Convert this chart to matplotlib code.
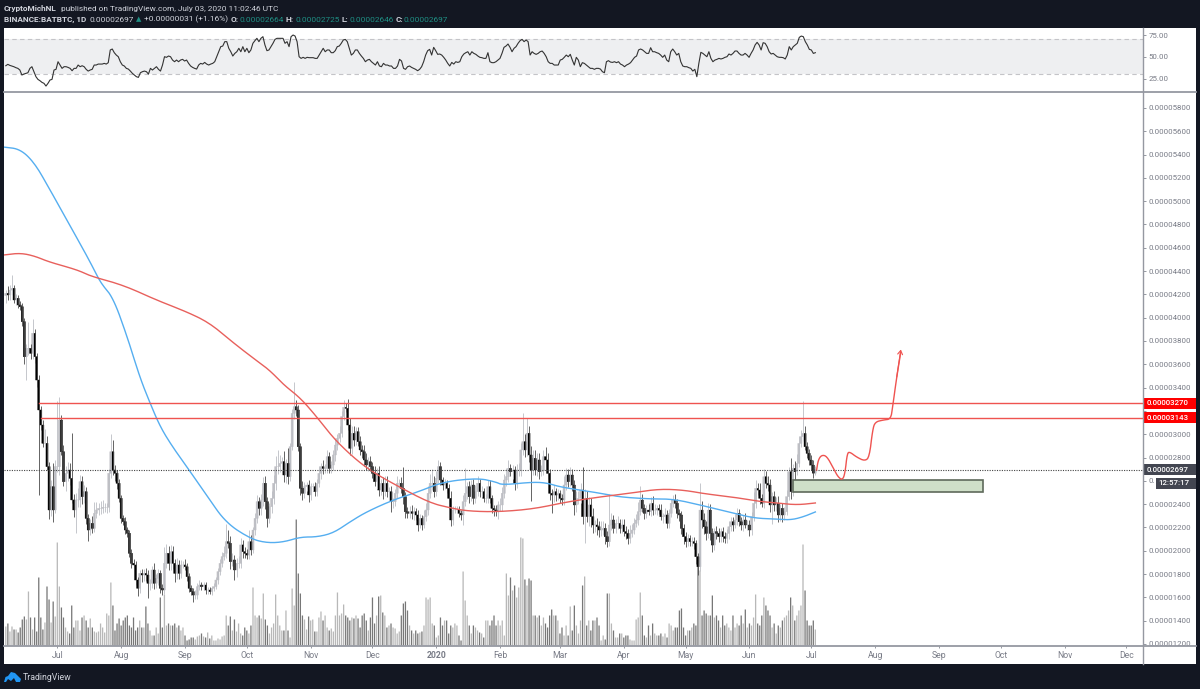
import numpy as np
import pandas as pd
import matplotlib
matplotlib.use('Agg')
from matplotlib import pyplot as plt
from matplotlib.patches import Rectangle, Polygon

plt.rcParams['font.family'] = ['Roboto', 'DejaVu Sans']

W, H = 1200, 689
START = pd.Timestamp('2019-06-06')

# daily closes in satoshi (1e-8 BTC)
close = [
    4209, 4195, 4237, 4252, 4152, 4166, 4109, 4094, 3966, 3665,
    3737, 3737, 3694, 3866, 3665, 3465, 3208, 3079, 2922, 2922,
    2722, 2350, 2550, 2350, 2722, 2722, 3122, 2850, 2593, 2665,
    2693, 2621, 2436, 2350, 2436, 2436, 2593, 2464, 2507, 2278,
    2178, 2235, 2192, 2321, 2350, 2364, 2364, 2373, 2373, 2373,
    2665, 2850, 2693, 2665, 2579, 2450, 2278, 2250, 2178, 2150,
    1978, 1892, 1878, 1749, 1678, 1806, 1792, 1806, 1792, 1721,
    1721, 1835, 1721, 1763, 1806, 1678, 1663, 1892, 1978, 1892,
    1992, 1892, 1806, 1878, 1806, 1878, 1878, 1863, 1778, 1678,
    1649, 1620, 1620, 1692, 1706, 1692, 1706, 1663, 1663, 1649,
    1678, 1692, 1749, 1821, 1892, 1950, 1978, 2078, 2064, 1907,
    1921, 1835, 1892, 1892, 2050, 1992, 1978, 1963, 2078, 2007,
    2178, 2278, 2421, 2364, 2436, 2579, 2421, 2278, 2378, 2450,
    2579, 2722, 2722, 2750, 2765, 2650, 2750, 2636, 2893, 3179,
    3236, 3208, 2893, 2536,
    2493, 2550, 2564, 2479, 2550, 2550, 2507, 2579, 2664, 2722,
    2707, 2707, 2807, 2707, 2736, 2822, 2907, 2965, 3008, 3151,
    3231, 3222, 3079, 2879, 3008, 2950, 3022, 2936, 2865, 2850,
    2779, 2736, 2764, 2722, 2664, 2593, 2664, 2521, 2579, 2507,
    2579, 2507, 2507, 2421, 2421, 2493, 2579, 2579, 2536, 2464,
    2335, 2321, 2335, 2321, 2335, 2307, 2221, 2278, 2221, 2293,
    2350, 2493, 2579, 2579, 2507, 2621, 2722, 2607, 2564, 2579,
    2536, 2450, 2264, 2350, 2350, 2350, 2321, 2307, 2421, 2493,
    2550, 2464, 2564, 2450, 2507, 2579, 2507, 2507, 2450, 2450,
    2550, 2450, 2364, 2350, 2335, 2393, 2393, 2493, 2607, 2636,
    2707, 2679, 2693, 2579, 2693, 2693, 2865, 2936, 2865, 3008,
    2822, 2693, 2793, 2693, 2779, 2679, 2690, 2807, 2779, 2664,
    2493, 2478, 2507, 2478, 2490, 2450, 2436, 2564, 2650, 2593,
    2650, 2564, 2393, 2450, 2450, 2521, 2293, 2450, 2293, 2393,
    2293, 2221, 2221, 2207, 2178,
    2178, 2192, 2121, 2078, 2221, 2264, 2192, 2235, 2235, 2192,
    2221, 2164, 2149, 2106, 2149, 2178, 2235, 2264, 2335, 2435,
    2364, 2321, 2349, 2335, 2407, 2349, 2349, 2364, 2349, 2292,
    2292, 2307, 2235, 2321, 2407, 2435, 2407, 2321, 2307, 2192,
    2121, 2078, 2106, 2078, 2078, 2064, 1949, 1863, 2349, 2264,
    2206, 2149, 2349, 2149, 2049, 2164, 2149, 2121, 2164, 2121,
    2106, 2149, 2206, 2249, 2221, 2264, 2321, 2249, 2221, 2264,
    2221, 2221, 2178, 2292, 2407, 2535, 2521, 2450, 2407, 2635,
    2578, 2564, 2393, 2464, 2393, 2407, 2307, 2364, 2307, 2335,
    2464, 2678, 2507, 2707, 2678, 2750, 2921, 2979, 3007, 2893,
    2836, 2778, 2735, 2666, 2697,
]

wick_up = [
    30, 60, 40, 110, 30, 40, 30, 30, 30, 30,
    40, 229, 40, 120, 40, 30, 40, 30, 40, 120,
    60, 40, 60, 200, 60, 560, 200, 40, 60, 60,
    70, 60, 390, 50, 60, 100, 60, 50, 60, 40,
    40, 40, 60, 100, 70, 50, 60, 60, 40, 40,
    40, 150, 100, 40, 30, 40, 30, 30, 40, 30,
    30, 40, 40, 30, 30, 30, 40, 40, 50, 40,
    40, 30, 60, 40, 40, 30, 40, 140, 80, 60,
    60, 50, 40, 60, 40, 40, 30, 50, 30, 30,
    30, 30, 40, 30, 40, 30, 30, 30, 30, 30,
    20, 30, 30, 30, 40, 40, 60, 150, 100, 60,
    60, 40, 50, 60, 60, 40, 40, 40, 100, 60,
    30, 50, 60, 40, 50, 50, 60, 40, 30, 60,
    70, 90, 140, 70, 40, 90, 40, 130, 30, 40,
    215, 60, 40, 30,
    60, 40, 30, 40, 30, 30, 40, 40, 60, 30,
    60, 40, 60, 40, 30, 40, 60, 40, 60, 50,
    60, 40, 80, 60, 60, 60, 40, 40, 50, 40,
    60, 60, 40, 50, 40, 60, 50, 60, 40, 50,
    60, 60, 40, 50, 30, 40, 60, 40, 50, 186,
    40, 40, 50, 60, 40, 30, 40, 40, 30, 60,
    60, 60, 80, 120, 60, 60, 60, 40, 30, 40,
    30, 40, 60, 30, 30, 30, 30, 30, 60, 214,
    40, 50, 40, 50, 60, 60, 40, 50, 30, 40,
    60, 60, 30, 30, 40, 30, 60, 50, 50, 70,
    70, 40, 40, 30, 50, 60, 60, 250, 70, 128,
    60, 80, 70, 70, 60, 60, 50, 60, 80, 60,
    40, 40, 60, 30, 40, 30, 40, 80, 60, 50,
    70, 50, 40, 60, 60, 60, 200, 80, 60, 70,
    60, 70, 40, 60, 50,
    80, 60, 50, 50, 270, 60, 40, 40, 60, 40,
    50, 50, 50, 40, 70, 50, 50, 50, 80, 120,
    50, 40, 40, 50, 50, 60, 50, 30, 40, 50,
    30, 60, 40, 40, 40, 40, 50, 40, 40, 30,
    40, 40, 40, 30, 40, 40, 30, 30, 235, 80,
    60, 50, 60, 50, 50, 30, 50, 50, 30, 40,
    40, 40, 50, 40, 40, 50, 50, 40, 40, 40,
    60, 40, 40, 40, 100, 70, 50, 60, 40, 70,
    50, 60, 50, 40, 50, 50, 60, 40, 50, 40,
    60, 40, 120, 40, 60, 80, 60, 60, 280, 60,
    40, 40, 40, 40, 28,
]

wick_dn = [
    60, 40, 40, 40, 30, 40, 30, 30, 40, 60,
    200, 60, 50, 50, 50, 60, 728, 40, 30, 50,
    30, 80, 50, 100, 30, 50, 70, 30, 40, 80,
    70, 60, 30, 60, 200, 60, 60, 60, 50, 50,
    90, 40, 40, 30, 40, 40, 50, 40, 40, 50,
    40, 40, 40, 70, 50, 30, 40, 30, 30, 30,
    30, 40, 30, 40, 70, 40, 60, 50, 50, 130,
    60, 40, 50, 40, 60, 40, 40, 30, 40, 60,
    60, 50, 70, 50, 50, 40, 30, 30, 40, 30,
    30, 60, 30, 30, 30, 30, 30, 30, 30, 20,
    30, 20, 20, 30, 30, 30, 30, 40, 40, 60,
    40, 90, 60, 40, 40, 50, 40, 30, 30, 40,
    30, 40, 40, 60, 60, 50, 60, 70, 40, 50,
    50, 60, 60, 50, 60, 60, 70, 60, 40, 30,
    50, 50, 40, 60,
    60, 40, 40, 60, 40, 40, 40, 40, 30, 50,
    50, 40, 40, 40, 40, 40, 50, 40, 30, 30,
    30, 30, 40, 60, 50, 50, 40, 40, 40, 50,
    50, 40, 50, 40, 40, 40, 60, 50, 40, 60,
    40, 50, 50, 90, 50, 40, 40, 40, 40, 60,
    50, 40, 40, 50, 60, 40, 50, 30, 40, 30,
    40, 40, 40, 60, 50, 40, 40, 40, 40, 30,
    40, 80, 50, 40, 30, 30, 30, 40, 86, 40,
    50, 50, 40, 50, 40, 40, 50, 50, 30, 40,
    40, 40, 40, 50, 40, 60, 50, 50, 40, 50,
    50, 40, 60, 60, 40, 50, 50, 40, 60, 50,
    60, 270, 40, 40, 50, 60, 40, 40, 50, 50,
    60, 150, 60, 50, 40, 40, 40, 40, 40, 50,
    40, 50, 90, 60, 50, 40, 60, 230, 50, 80,
    90, 70, 60, 70, 60,
    50, 40, 60, 50, 40, 40, 40, 40, 50, 40,
    40, 40, 50, 50, 40, 30, 30, 30, 40, 30,
    30, 50, 40, 30, 40, 40, 30, 40, 30, 30,
    50, 30, 40, 40, 30, 30, 40, 40, 50, 50,
    60, 50, 40, 40, 40, 50, 60, 70, 40, 70,
    60, 60, 40, 60, 60, 40, 50, 50, 50, 50,
    40, 40, 50, 40, 50, 30, 40, 40, 40, 50,
    30, 40, 50, 40, 40, 40, 40, 50, 30, 40,
    40, 50, 60, 160, 50, 50, 60, 50, 60, 40,
    30, 30, 60, 40, 70, 30, 30, 30, 40, 30,
    40, 40, 40, 40, 20,
]

# volume, arbitrary units
volume = [
    19, 22, 14, 19, 16, 16, 13, 18, 26, 29,
    26, 54, 28, 16, 28, 14, 68, 28, 16, 23,
    59, 46, 23, 44, 29, 103, 59, 38, 28, 18,
    14, 12, 40, 18, 25, 25, 15, 28, 30, 25,
    18, 27, 18, 14, 13, 14, 22, 18, 13, 32,
    30, 63, 40, 15, 22, 27, 20, 25, 28, 30,
    20, 18, 28, 15, 18, 25, 18, 18, 39, 22,
    15, 10, 10, 18, 12, 48, 18, 51, 20, 22,
    20, 20, 22, 18, 20, 15, 18, 10, 5, 6,
    8, 8, 6, 9, 10, 12, 9, 8, 13, 7,
    10, 5, 5, 7, 6, 9, 10, 30, 20, 29,
    15, 26, 14, 22, 12, 10, 18, 15, 12, 20,
    58, 30, 28, 30, 27, 52, 26, 20, 12, 18,
    22, 51, 30, 20, 15, 15, 35, 15, 8, 57,
    40, 126, 72, 52,
    30, 26, 16, 29, 25, 26, 14, 14, 28, 34,
    25, 30, 18, 15, 17, 14, 30, 53, 30, 32,
    41, 30, 28, 25, 28, 27, 30, 27, 18, 30,
    32, 25, 15, 28, 48, 22, 30, 49, 50, 33,
    30, 18, 20, 22, 18, 17, 12, 14, 30, 42,
    44, 35, 20, 15, 12, 15, 12, 13, 14, 20,
    48, 46, 48, 22, 20, 8, 10, 28, 20, 25,
    25, 12, 20, 18, 22, 20, 10, 5, 74, 45,
    30, 20, 12, 20, 18, 15, 13, 12, 8, 25,
    25, 20, 25, 30, 20, 25, 20, 25, 10, 72,
    50, 68, 55, 60, 48, 58, 108, 107, 66, 60,
    67, 65, 30, 30, 28, 30, 20, 28, 22, 18,
    30, 36, 30, 30, 25, 12, 18, 10, 20, 10,
    39, 15, 40, 20, 12, 25, 60, 69, 20, 25,
    15, 25, 25, 28, 20,
    5, 10, 6, 52, 52, 22, 15, 8, 8, 12,
    12, 8, 10, 10, 6, 5, 5, 26, 28, 53,
    30, 10, 8, 20, 10, 22, 12, 10, 10, 12,
    9, 12, 8, 22, 20, 15, 18, 18, 35, 37,
    18, 10, 15, 15, 18, 22, 20, 80, 75, 30,
    35, 32, 30, 30, 50, 28, 30, 25, 18, 30,
    20, 22, 18, 15, 30, 18, 22, 20, 30, 22,
    36, 18, 22, 20, 28, 51, 22, 20, 30, 48,
    40, 35, 30, 18, 22, 12, 20, 18, 25, 28,
    30, 35, 48, 40, 25, 30, 35, 40, 101, 55,
    25, 20, 20, 25, 16,
]

rsi = [
    40.0, 41.6, 40.4, 39.7, 38.9, 37.8, 37.0, 35.1, 29.4, 30.5, 31.3, 32.0, 37.0, 38.9, 33.2, 27.5,
    24.4, 22.9, 21.0, 19.9, 16.8, 19.9, 23.7, 24.4, 35.1, 35.9, 44.6, 40.8, 37.0, 38.9, 38.9, 38.1,
    37.0, 34.3, 37.0, 37.0, 40.8, 38.9, 40.0, 38.9, 35.9, 33.9, 35.1, 35.9, 40.8, 40.8, 41.9, 41.9,
    41.9, 42.7, 41.9, 43.5, 58.0, 59.1, 54.9, 52.2, 50.3, 44.6, 40.8, 39.7, 37.0, 36.2, 33.9, 31.3,
    29.4, 27.5, 26.7, 32.0, 33.2, 33.9, 33.2, 30.5, 37.0, 35.1, 37.0, 38.9, 35.9, 33.9, 40.8, 50.3,
    49.6, 51.1, 50.3, 46.5, 44.6, 46.5, 44.6, 46.5, 47.3, 45.4, 46.5, 42.7, 39.7, 38.1, 37.0, 36.2,
    40.8, 42.7, 41.9, 43.8, 41.9, 40.8, 41.9, 42.7, 44.6, 50.3, 56.0, 61.8, 62.5, 67.5, 67.5, 59.9,
    56.0, 51.1, 54.1, 56.0, 59.9, 56.0, 61.8, 56.0, 59.9, 54.9, 58.0, 65.6, 68.6, 71.3, 67.5, 71.3,
    73.2, 63.7, 57.2, 58.0, 61.8, 65.6, 70.1, 71.3, 71.3, 71.3, 71.3, 65.6, 67.5, 61.8, 73.2, 75.1,
    73.9, 67.5, 50.3, 48.4, 49.6, 48.4, 49.6, 49.2, 49.2, 49.2, 48.4, 48.4, 52.2, 56.0, 59.9, 56.0,
    58.0, 58.0, 54.9, 54.9, 57.2, 61.8, 62.5, 65.6, 69.4, 70.1, 67.5, 59.9, 52.2, 54.1, 58.0, 58.0,
    54.1, 51.1, 48.4, 44.6, 46.5, 47.3, 44.6, 42.7, 40.8, 44.6, 39.7, 38.9, 42.7, 40.8, 40.8, 39.7,
    39.7, 37.0, 37.0, 39.7, 47.3,
    45.4, 37.0, 35.9, 38.9, 39.7, 38.1, 37.0, 35.9, 34.3, 35.9, 38.9, 44.6, 52.2, 57.2, 58.7, 52.2,
    61.0, 57.2, 53.0, 53.4, 52.2, 49.6, 46.5, 42.7, 39.7, 43.8, 41.9, 44.6, 43.8, 44.6, 50.3, 53.4,
    54.9, 56.0, 52.2, 56.0, 54.1, 53.0, 51.1, 49.6, 49.2, 48.4, 48.4, 54.9, 44.6, 43.5, 43.5, 44.6,
    46.5, 48.4, 54.1, 61.0, 62.5, 64.8, 61.0, 56.0, 59.9, 61.8, 65.6, 68.6, 70.1, 67.5, 69.4, 67.5,
    52.2, 56.0, 54.1, 53.0, 54.1, 56.0, 56.8, 54.1, 50.3, 44.6, 42.7, 42.7, 40.8, 40.8, 40.8, 46.5,
    47.3, 49.6, 52.2, 50.3, 53.0, 46.5, 40.8, 49.6, 46.5, 38.9, 43.5, 42.7, 40.8, 38.9, 37.0, 37.0,
    35.9, 37.0, 37.0, 36.2, 33.2, 32.0, 44.6, 45.8, 44.2, 43.8, 44.6, 43.5, 44.6, 41.9, 40.8, 38.9,
    40.8, 41.9, 43.5, 46.5, 49.6, 51.1, 58.0, 59.1, 58.0, 56.0, 54.1, 54.1, 60.6, 56.0, 56.0, 54.9,
    54.1, 52.2, 49.6, 52.2, 46.5, 44.6, 56.0, 59.1, 56.0, 52.2, 54.1, 44.6, 39.7, 38.9, 38.9, 37.8,
    37.0, 33.9, 35.9, 27.5, 42.7, 55.3, 54.1, 52.2, 50.3, 56.0, 48.4, 44.6, 46.5, 47.3, 48.4, 47.7,
    48.4, 49.6, 50.3, 53.4, 52.2, 54.1, 56.8, 56.8, 54.1, 52.2, 52.2, 54.1, 52.2, 49.6, 54.1, 58.0,
    63.7, 66.7, 63.7, 58.0, 66.3, 65.6, 61.8, 56.0, 53.4, 54.1, 52.2, 50.3, 49.6, 49.6, 49.2, 47.7,
    52.2, 61.8, 58.0, 61.8, 63.7, 65.6, 72.4, 73.9, 73.2, 67.5, 63.7, 58.7, 58.0, 54.1, 54.9,
]

# moving averages, day offset from START and satoshi value
blue_days = [-1, 7, 14, 21, 31, 41, 46, 52, 59, 65, 70, 75, 81, 89, 98, 107, 119, 127, 135, 143,
             151, 159, 167, 175, 188, 200, 212, 229, 238, 241, 256, 263, 269, 288, 298, 313, 324,
             337, 353, 363, 373, 381, 387, 393]
blue_ma = [5464, 5447, 5327, 5112, 4795, 4478, 4297, 4177, 3834, 3491, 3268, 3062, 2890, 2693, 2461,
           2238, 2101, 2067, 2075, 2118, 2118, 2152, 2247, 2333, 2436, 2504, 2590, 2624, 2590, 2564,
           2590, 2581, 2547, 2496, 2461, 2444, 2444, 2393, 2324, 2281, 2272, 2264, 2290, 2333]
red_days = [-1, 7, 14, 21, 35, 41, 57, 73, 88, 99, 110, 120, 128, 135, 143, 151, 159, 169, 178, 191,
            206, 216, 224, 238, 256, 272, 288, 304, 317, 329, 340, 353, 364, 374, 384, 393]
red_ma = [4538, 4555, 4529, 4478, 4409, 4357, 4280, 4152, 4049, 3954, 3791, 3654, 3551, 3422, 3311,
          3148, 2967, 2796, 2676, 2547, 2410, 2367, 2341, 2333, 2358, 2418, 2461, 2496, 2530, 2521,
          2487, 2461, 2427, 2410, 2393, 2410]

# hand drawn projection
proj_days = [393.6, 394.4, 396, 398.5, 401.7, 404, 406.2, 407.4, 408.5, 409.8, 413, 417, 419.2,
             420.8, 422, 426, 429.6, 430.5, 432.5, 434.4]
proj_price = [2693, 2779, 2821, 2813, 2710, 2633, 2607, 2667, 2839, 2847, 2804, 2770, 2804,
              3036, 3105, 3122, 3130, 3233, 3491, 3697]

levels = [3270, 3143]
level_start = [16, 17]
last_price = 2697
zone_days = (382, 474.4)
zone_price = (2507, 2607)

price_ticks = list(range(1200, 5801, 200))
rsi_ticks = [25, 50, 75]
month_ticks = ['2019-07-01', '2019-08-01', '2019-09-01', '2019-10-01', '2019-11-01', '2019-12-01',
               '2020-01-01', '2020-02-01', '2020-03-01', '2020-04-01', '2020-05-01', '2020-06-01',
               '2020-07-01', '2020-08-01', '2020-09-01', '2020-10-01', '2020-11-01', '2020-12-01']
month_labels = ['Jul', 'Aug', 'Sep', 'Oct', 'Nov', 'Dec', '2020', 'Feb', 'Mar', 'Apr', 'May', 'Jun',
                'Jul', 'Aug', 'Sep', 'Oct', 'Nov', 'Dec']

DARK = '#131722'
AXIS = '#9598a1'
LABEL = '#787b86'
TEAL = '#1f8f84'
RED = '#ef5350'
HEAD = '#d1d4dc'
HEAD_SIZE = 5.95


def px_axes(fig, left, top, right, bottom, **kw):
    return fig.add_axes([left / W, 1 - bottom / H, (right - left) / W, (bottom - top) / H], **kw)


def day(offsets):
    return START + pd.to_timedelta(offsets, unit='D')


def chaikin(xs, ys, rounds=2):
    pts = np.column_stack([xs, ys])
    for _ in range(rounds):
        q = 0.75 * pts[:-1] + 0.25 * pts[1:]
        r = 0.25 * pts[:-1] + 0.75 * pts[1:]
        mid = np.empty((len(q) * 2, 2))
        mid[0::2] = q
        mid[1::2] = r
        pts = np.vstack([pts[:1], mid, pts[-1:]])
    return pts[:, 0], pts[:, 1]


def tick_text(v):
    # the red tag covers 3200, the timer tag covers most of 2600
    if v == 3200:
        return ''
    if v == 2600:
        return '0.'
    return f'{v / 1e8:.8f}'


fig = plt.figure(figsize=(W / 100, H / 100), dpi=100, facecolor=DARK)

# white chart panel behind everything
back = fig.add_axes([0, 0, 1, 1], zorder=0)
back.set_xlim(0, W)
back.set_ylim(H, 0)
back.axis('off')
back.add_patch(Rectangle((4.3, 28), 1191.7, 636, fc='white', ec='none'))

dates = pd.date_range(START, periods=len(close))
xlim = (day(-0.73), day(552.2))

close_a = np.array(close, dtype=float)
open_a = np.concatenate([[4190], close_a[:-1]])
up = close_a >= open_a
high_a = np.maximum(open_a, close_a) + np.array(wick_up)
low_a = np.minimum(open_a, close_a) - np.array(wick_dn)

# volume pane shares the main pane area
ax_vol = px_axes(fig, 4.3, 93, 1143.3, 645.5, zorder=1)
ax_vol.patch.set_visible(False)
ax_vol.bar(dates, volume, width=0.62, color=np.where(up, '#b8b8b8', '#777777'), snap=False)
ax_vol.set_xlim(*xlim)
ax_vol.set_ylim(0, 552.5)
ax_vol.axis('off')

ax = px_axes(fig, 4.3, 93, 1143.3, 645.5, zorder=2)
ax.patch.set_visible(False)
ax.vlines(dates[up], low_a[up], high_a[up], color='#bcbec4', lw=0.6)
ax.vlines(dates[~up], low_a[~up], high_a[~up], color='#4a4a4a', lw=0.6)
ax.bar(dates[up], (close_a - open_a)[up], bottom=open_a[up], width=1.0, color='#bfbfc4',
       edgecolor='#bfbfc4', linewidth=0.3, snap=False)
ax.bar(dates[~up], (close_a - open_a)[~up], bottom=open_a[~up], width=1.0, color='black',
       edgecolor='black', linewidth=0.3, snap=False)

bx, by = chaikin(blue_days, blue_ma, 3)
ax.plot(day(bx), by, color='#55aef0', lw=1)
rx, ry = chaikin(red_days, red_ma, 3)
ax.plot(day(rx), ry, color='#e8605c', lw=1)

for level, s in zip(levels, level_start):
    ax.plot([day(s), xlim[1]], [level, level], color=RED, lw=1)
ax.axhline(last_price, color='#444444', lw=0.8, ls=(0, (1, 1.2)))
ax.add_patch(Rectangle((day(zone_days[0]), zone_price[0]),
                       pd.Timedelta(days=zone_days[1] - zone_days[0]),
                       zone_price[1] - zone_price[0],
                       fc='#cfdfc8', ec='#5f6a5b', lw=1.2, zorder=3))

px, py = chaikin(proj_days, proj_price)
ax.plot(day(px), py, color=RED, lw=1, zorder=4)
ax.annotate('', xy=(day(proj_days[-1] + 0.1), proj_price[-1] + 30), xytext=(day(proj_days[-2]), proj_price[-2]),
            arrowprops=dict(arrowstyle='->,head_length=0.35,head_width=0.22', color=RED, lw=0.8,
                            mutation_scale=8, shrinkA=0, shrinkB=0),
            zorder=4)

ax.set_xlim(*xlim)
ax.set_ylim(1187, 5928)
ax.yaxis.tick_right()
ax.set_yticks(price_ticks)
ax.set_yticklabels([tick_text(v) for v in price_ticks])
ax.tick_params(axis='y', length=2.5, width=0.7, color=AXIS, labelcolor=LABEL, labelsize=5.7, pad=1.5)
ax.set_xticks(pd.to_datetime(month_ticks))
ax.set_xticklabels(month_labels)
ax.tick_params(axis='x', length=1.5, width=0.7, color=AXIS, labelcolor=LABEL, labelsize=6.2, pad=2.5)
ax.get_xticklabels()[6].set_fontweight('bold')
for s in ax.spines.values():
    s.set_visible(False)

# rsi pane
ax_rsi = px_axes(fig, 4.3, 28, 1143.3, 92, zorder=2)
ax_rsi.patch.set_visible(False)
ax_rsi.axhspan(30, 70, color='#eeeff1', lw=0)
ax_rsi.axhline(70, color='#c4c4c8', lw=0.8, ls=(0, (4, 3)))
ax_rsi.axhline(30, color='#c4c4c8', lw=0.8, ls=(0, (4, 3)))
rsi_dates = pd.date_range(START, pd.Timestamp('2020-07-03'), periods=len(rsi))
ax_rsi.plot(rsi_dates, rsi, color='#333333', lw=0.8)
ax_rsi.set_xlim(*xlim)
ax_rsi.set_ylim(10, 83.1)
ax_rsi.yaxis.tick_right()
ax_rsi.set_yticks(rsi_ticks)
ax_rsi.set_yticklabels([f'{v:.2f}' for v in rsi_ticks])
ax_rsi.tick_params(axis='y', length=2.5, width=0.7, color=AXIS, labelcolor=LABEL, labelsize=5.7, pad=1.5)
ax_rsi.set_xticks([])
for s in ax_rsi.spines.values():
    s.set_visible(False)

# chrome drawn in pixel coordinates on top
ov = fig.add_axes([0, 0, 1, 1], zorder=5)
ov.set_xlim(0, W)
ov.set_ylim(H, 0)
ov.axis('off')
ov.patch.set_visible(False)
ov.plot([4.3, 1196], [92, 92], color=AXIS, lw=1.3)
ov.plot([4.3, 1196], [645.6, 645.6], color=AXIS, lw=1.3)
ov.plot([1143.3, 1143.3], [28, 664], color=AXIS, lw=1)


def price_tag(top, bottom, left, text, color):
    ov.add_patch(Rectangle((left, top), 1196 - left, bottom - top, fc=color, ec='none'))
    ov.text((left + 1196) / 2 - 2, (top + bottom) / 2, text, color='white', fontsize=5.7, fontweight='medium',
            ha='center', va='center')


price_tag(397.5, 409, 1143.5, f'{levels[0] / 1e8:.8f}', '#ff0000')
price_tag(412, 423, 1143.5, f'{levels[1] / 1e8:.8f}', '#ff0000')
price_tag(464, 475, 1143.5, f'{last_price / 1e8:.8f}', '#434651')
price_tag(477.5, 488.5, 1156, '12:57:17', '#434651')

# header lines
ov.text(4, 8.5, 'CryptoMichNL', color=HEAD, fontsize=HEAD_SIZE, fontweight='bold', va='center')
ov.text(61, 8.5, 'published on TradingView.com, July 03, 2020 11:02:46 UTC', color=HEAD, fontsize=HEAD_SIZE, va='center')
ov.text(4, 19.5, 'BINANCE:BATBTC, 1D', color=HEAD, fontsize=HEAD_SIZE, fontweight='bold', va='center')
ov.text(89, 19.5, '0.00002697', color=HEAD, fontsize=HEAD_SIZE, va='center')
ov.text(135.5, 19.5, '▲', color=TEAL, fontsize=5, va='center', family=['DejaVu Sans'])
ov.text(144.5, 19.5, '+0.00000031 (+1.16%)', color=HEAD, fontsize=HEAD_SIZE, va='center')
for lx, vx, lab, val in [(231, 240, 'O:', '0.00002664'), (286, 296, 'H:', '0.00002725'),
                         (342, 349, 'L:', '0.00002646'), (396, 404, 'C:', '0.00002697')]:
    ov.text(lx, 19.5, lab, color=HEAD, fontsize=HEAD_SIZE, fontweight='bold', va='center')
    ov.text(vx, 19.5, val, color=TEAL, fontsize=HEAD_SIZE, va='center')

# footer, logo shape and wordmark
ov.add_patch(Polygon([(4, 682), (5.5, 677), (8, 676), (11, 672), (15, 673), (18, 676), (21, 679), (20, 682),
                      (16, 682), (14, 678), (11, 681), (8, 679), (6, 682)], fc='#2196f3', ec='none'))
ov.text(23, 677, 'TradingView', color=HEAD, fontsize=6.3, va='center')

fig.savefig('out.png', dpi=100, facecolor=DARK)
